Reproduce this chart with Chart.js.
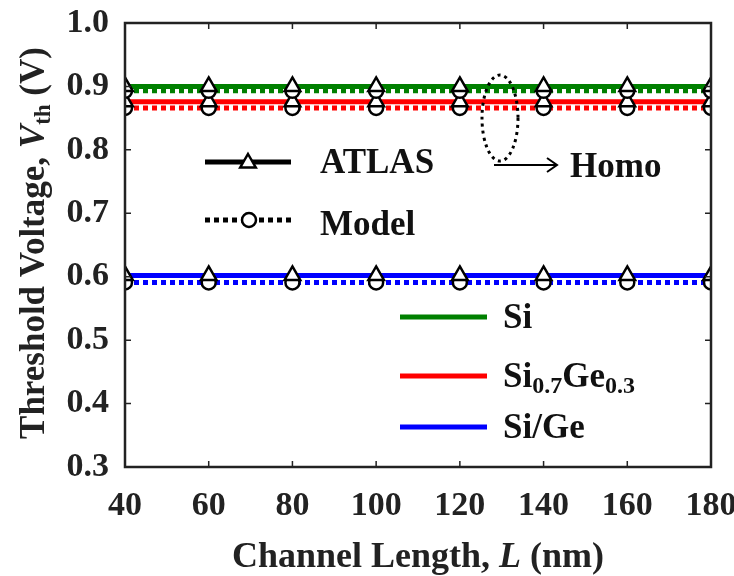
<!DOCTYPE html>
<html>
<head>
<meta charset="utf-8">
<script src="https://cdn.jsdelivr.net/npm/chart.js@4.4.0/dist/chart.umd.min.js"></script>
<style>
  html, body { margin: 0; padding: 0; background: #fff; }
  #wrap { width: 734px; height: 576px; }
</style>
</head>
<body>
<div id="wrap"><canvas id="c" width="734" height="576"></canvas></div>
<script>
// channel length (nm)
var lengths = [40, 60, 80, 100, 120, 140, 160, 180];
// threshold voltage (V)
var siAtlas    = [0.900, 0.900, 0.900, 0.900, 0.900, 0.900, 0.900, 0.900];
var siModel    = [0.893, 0.893, 0.893, 0.893, 0.893, 0.893, 0.893, 0.893];
var sigeAtlas  = [0.876, 0.876, 0.876, 0.876, 0.876, 0.876, 0.876, 0.876];
var sigeModel  = [0.866, 0.866, 0.866, 0.866, 0.866, 0.866, 0.866, 0.866];
var heteAtlas  = [0.602, 0.602, 0.602, 0.602, 0.602, 0.602, 0.602, 0.602];
var heteModel  = [0.591, 0.591, 0.591, 0.591, 0.591, 0.591, 0.591, 0.591];
var yTicks = [0.3, 0.4, 0.5, 0.6, 0.7, 0.8, 0.9, 1.0];
var xTicks = [40, 60, 80, 100, 120, 140, 160, 180];

var GREEN = '#008000', RED = '#ff0000', BLUE = '#0000ff';
var FONT = '"Liberation Serif", "Times New Roman", serif';

function pts(arr) {
    return arr.map(function (v, i) { return { x: lengths[i], y: v }; });
}

function series(label, data, color, model) {
    return {
        label: label,
        data: pts(data),
        borderColor: color,
        borderWidth: 5,
        borderDash: model ? [5, 4] : [],
        borderCapStyle: 'butt',
        pointStyle: model ? 'circle' : 'triangle',
        pointRadius: model ? 7 : 9,
        pointBorderWidth: 2.5,
        pointBorderColor: '#000',
        pointBackgroundColor: '#fff',
        tension: 0,
        fill: false
    };
}

function richText(ctx, parts, x, y) {
    // draws a list of {t, font, dy} centred on x
    var w = 0;
    parts.forEach(function (p) { ctx.font = p.font; w += ctx.measureText(p.t).width; });
    richLeft(ctx, parts, x - w / 2, y);
}

function richLeft(ctx, parts, x, y) {
    var cx = x;
    ctx.textAlign = 'left';
    ctx.textBaseline = 'alphabetic';
    parts.forEach(function (p) {
        ctx.font = p.font;
        ctx.fillText(p.t, cx, y + (p.dy || 0));
        cx += ctx.measureText(p.t).width;
    });
}

function marker(ctx, style, x, y) {
    ctx.save();
    ctx.setLineDash([]);
    ctx.lineWidth = 2.5;
    ctx.strokeStyle = '#000';
    ctx.fillStyle = '#fff';
    ctx.beginPath();
    if (style === 'triangle') {
        var r = 9;
        ctx.moveTo(x, y - r);
        ctx.lineTo(x + r * 0.866, y + r * 0.5);
        ctx.lineTo(x - r * 0.866, y + r * 0.5);
        ctx.closePath();
    } else {
        ctx.arc(x, y, 7, 0, Math.PI * 2);
    }
    ctx.fill();
    ctx.stroke();
    ctx.restore();
}

var decorations = {
    id: 'decorations',
    afterDatasetsDraw: function (chart) {
        var ctx = chart.ctx, a = chart.chartArea;
        var xs = chart.scales.x, ys = chart.scales.y;
        ctx.save();
        // frame
        ctx.strokeStyle = '#222';
        ctx.lineWidth = 2.5;
        ctx.strokeRect(a.left, a.top, a.right - a.left, a.bottom - a.top);
        // inward ticks
        ctx.lineWidth = 1.5;
        ctx.beginPath();
        xTicks.forEach(function (v) {
            var px = xs.getPixelForValue(v);
            ctx.moveTo(px, a.bottom); ctx.lineTo(px, a.bottom - 6);
            ctx.moveTo(px, a.top); ctx.lineTo(px, a.top + 6);
        });
        yTicks.forEach(function (v) {
            var py = ys.getPixelForValue(v);
            ctx.moveTo(a.left, py); ctx.lineTo(a.left + 6, py);
            ctx.moveTo(a.right, py); ctx.lineTo(a.right - 6, py);
        });
        ctx.stroke();

        ctx.fillStyle = '#111';
        // ATLAS / Model legend
        ctx.lineWidth = 5;
        ctx.strokeStyle = '#000';
        ctx.beginPath(); ctx.moveTo(205, 162); ctx.lineTo(291, 162); ctx.stroke();
        marker(ctx, 'triangle', 248, 163);
        ctx.setLineDash([5, 4]);
        ctx.beginPath(); ctx.moveTo(205, 220); ctx.lineTo(293, 220); ctx.stroke();
        ctx.setLineDash([]);
        marker(ctx, 'circle', 249, 220);
        ctx.font = 'bold 35px ' + FONT;
        ctx.textAlign = 'left';
        ctx.textBaseline = 'alphabetic';
        ctx.fillText('ATLAS', 320, 173);
        ctx.fillText('Model', 320, 235);

        // material legend
        var mats = [
            { c: GREEN, y: 317, parts: [{ t: 'Si', font: 'bold 35px ' + FONT }] },
            { c: RED, y: 376, parts: [
                { t: 'Si', font: 'bold 35px ' + FONT },
                { t: '0.7', font: 'bold 24px ' + FONT, dy: 6 },
                { t: 'Ge', font: 'bold 35px ' + FONT },
                { t: '0.3', font: 'bold 24px ' + FONT, dy: 6 }] },
            { c: BLUE, y: 427, parts: [{ t: 'Si/Ge', font: 'bold 35px ' + FONT }] }
        ];
        mats.forEach(function (m) {
            ctx.strokeStyle = m.c;
            ctx.lineWidth = 5;
            ctx.beginPath(); ctx.moveTo(400, m.y); ctx.lineTo(487, m.y); ctx.stroke();
            richLeft(ctx, m.parts, 503, m.y + 11);
        });

        // Homo annotation
        ctx.strokeStyle = '#000';
        ctx.lineWidth = 3;
        ctx.setLineDash([3, 4]);
        ctx.beginPath();
        ctx.ellipse(500, 118, 18, 43, 0, 0, Math.PI * 2);
        ctx.stroke();
        ctx.setLineDash([]);
        ctx.lineWidth = 2;
        ctx.beginPath();
        ctx.moveTo(494, 165); ctx.lineTo(557, 165);
        ctx.moveTo(547, 158); ctx.lineTo(557, 165); ctx.lineTo(547, 172);
        ctx.stroke();
        ctx.font = 'bold 35px ' + FONT;
        ctx.fillText('Homo', 570, 177);

        // axis titles
        ctx.fillStyle = '#222';
        richText(ctx, [
            { t: 'Channel Length, ', font: 'bold 36px ' + FONT },
            { t: 'L', font: 'italic bold 36px ' + FONT },
            { t: ' (nm)', font: 'bold 36px ' + FONT }
        ], (a.left + a.right) / 2, 567);
        ctx.translate(44, 243);
        ctx.rotate(-Math.PI / 2);
        richText(ctx, [
            { t: 'Threshold Voltage, ', font: 'bold 35px ' + FONT },
            { t: 'V', font: 'italic bold 35px ' + FONT },
            { t: 'th', font: 'bold 23px ' + FONT, dy: 6 },
            { t: ' (V)', font: 'bold 35px ' + FONT }
        ], 0, 0);
        ctx.restore();
    }
};

new Chart(document.getElementById('c'), {
    type: 'line',
    data: {
        datasets: [
            series('Si ATLAS', siAtlas, GREEN, false),
            series('Si Model', siModel, GREEN, true),
            series('Si0.7Ge0.3 ATLAS', sigeAtlas, RED, false),
            series('Si0.7Ge0.3 Model', sigeModel, RED, true),
            series('Si/Ge ATLAS', heteAtlas, BLUE, false),
            series('Si/Ge Model', heteModel, BLUE, true)
        ]
    },
    options: {
        responsive: false,
        animation: false,
        events: [],
        layout: { padding: { top: 23, right: 23, left: 0, bottom: 0 } },
        plugins: { legend: { display: false }, tooltip: { enabled: false } },
        scales: {
            x: {
                type: 'linear',
                min: 40, max: 180,
                afterBuildTicks: function (s) { s.ticks = xTicks.map(function (v) { return { value: v }; }); },
                afterFit: function (s) { s.height = 109; s.paddingLeft = 0; s.paddingRight = 0; },
                grid: { display: false, drawTicks: false },
                border: { display: false },
                ticks: { color: '#222', padding: 19, maxRotation: 0, font: { family: FONT, size: 34, weight: 'bold' } }
            },
            y: {
                type: 'linear',
                min: 0.3, max: 1.0,
                afterBuildTicks: function (s) { s.ticks = yTicks.map(function (v) { return { value: v }; }); },
                afterFit: function (s) { s.width = 125; s.paddingTop = 0; s.paddingBottom = 0; },
                grid: { display: false, drawTicks: false },
                border: { display: false },
                ticks: {
                    color: '#222', padding: 16,
                    font: { family: FONT, size: 34, weight: 'bold' },
                    callback: function (v) { return Number(v).toFixed(1); }
                }
            }
        }
    },
    plugins: [decorations]
});
</script>
</body>
</html>
